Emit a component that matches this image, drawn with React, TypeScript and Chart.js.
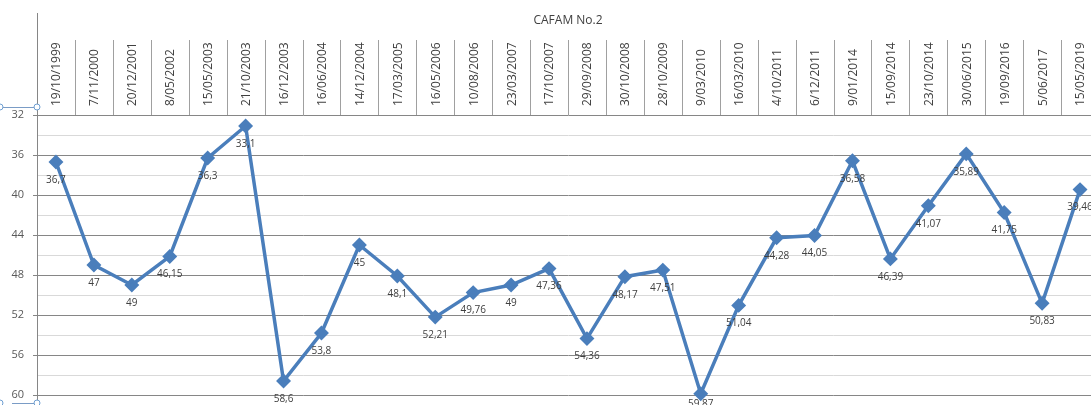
import React, { useEffect, useRef } from "react";
import { Chart, registerables } from "chart.js";

Chart.register(...registerables);

const title = "CAFAM No.2";
const categories = [
  "19/10/1999", "7/11/2000", "20/12/2001", "8/05/2002", "15/05/2003", "21/10/2003",
  "16/12/2003", "16/06/2004", "14/12/2004", "17/03/2005", "16/05/2006", "10/08/2006",
  "23/03/2007", "17/10/2007", "29/09/2008", "30/10/2008", "28/10/2009", "9/03/2010",
  "16/03/2010", "4/10/2011", "6/12/2011", "9/01/2014", "15/09/2014", "23/10/2014",
  "30/06/2015", "19/09/2016", "5/06/2017", "15/05/2019",
];
const values = [
  36.7, 47, 49, 46.15, 36.3, 33.1, 58.6, 53.8, 45, 48.1, 52.21, 49.76, 49, 47.36,
  54.36, 48.17, 47.51, 59.87, 51.04, 44.28, 44.05, 36.58, 46.39, 41.07, 35.89,
  41.75, 50.83, 39.46,
];
const yMin = 32;
const yMax = 60;
const yStep = 2;
const yLabelStep = 4;

const LINE = "#4a7ebb";
const MAJOR = "#868686";
const MINOR = "#d9d9d9";
const FONT = "'Open Sans', 'Noto Sans', sans-serif";

const decorPlugin = {
  id: "decor",
  afterDraw(chart: any) {
    const ctx = chart.ctx as CanvasRenderingContext2D;
    const area = chart.chartArea;
    const xs = chart.scales.x;
    const ys = chart.scales.y;
    ctx.save();

    // title
    ctx.fillStyle = "#404040";
    ctx.font = `12px ${FONT}`;
    ctx.textAlign = "center";
    ctx.textBaseline = "middle";
    ctx.fillText(title, (area.left + area.right) / 2, 21);

    // header separators and category labels
    const n = categories.length;
    const w = (area.right - area.left) / n;
    ctx.strokeStyle = "#a0a0a0";
    ctx.lineWidth = 1;
    for (let i = 1; i < n + 1; i++) {
      const x = Math.round(area.left + i * w) + 0.5;
      ctx.beginPath();
      ctx.moveTo(x, 40);
      ctx.lineTo(x, area.top);
      ctx.stroke();
    }
    ctx.fillStyle = "#404040";
    ctx.font = `12px ${FONT}`;
    ctx.textAlign = "left";
    ctx.textBaseline = "middle";
    categories.forEach((c, i) => {
      const cx = xs.getPixelForValue(i) + 1;
      ctx.save();
      ctx.translate(cx, 106);
      ctx.rotate(-Math.PI / 2);
      ctx.fillText(c, 0, 0);
      ctx.restore();
    });

    // extended vertical axis line
    ctx.strokeStyle = MAJOR;
    ctx.beginPath();
    ctx.moveTo(Math.round(area.left) + 0.5, 13);
    ctx.lineTo(Math.round(area.left) + 0.5, 405);
    ctx.stroke();

    // data labels (kept inside the chart box like Excel does)
    ctx.fillStyle = "#404040";
    ctx.font = `10px ${FONT}`;
    ctx.textAlign = "center";
    ctx.textBaseline = "middle";
    values.forEach((v, i) => {
      const px = xs.getPixelForValue(i);
      const py = ys.getPixelForValue(v);
      ctx.fillText(String(v).replace(".", ","), px, Math.min(py + 18, 404));
    });

    // selection handles
    const handle = (x: number, y: number) => {
      ctx.beginPath();
      ctx.arc(x, y, 3, 0, Math.PI * 2);
      ctx.fillStyle = "#ffffff";
      ctx.fill();
      ctx.strokeStyle = "#6f9fd1";
      ctx.stroke();
    };
    ctx.strokeStyle = "#7a9cc6";
    ctx.beginPath();
    ctx.moveTo(0, 107.5);
    ctx.lineTo(37, 107.5);
    ctx.moveTo(12, 403.5);
    ctx.lineTo(37, 403.5);
    ctx.stroke();
    handle(0, 107);
    handle(37, 107);
    handle(37, 403);
    handle(0, 403);

    ctx.restore();
  },
};

export default function App() {
  const ref = useRef<HTMLCanvasElement | null>(null);
  useEffect(() => {
    if (!ref.current) return;
    const chart = new Chart(ref.current, {
      type: "line",
      data: {
        labels: categories,
        datasets: [
          {
            data: values,
            borderColor: LINE,
            backgroundColor: LINE,
            borderWidth: 3.5,
            pointStyle: "rectRot",
            pointRadius: 5,
            pointBackgroundColor: LINE,
            pointBorderColor: LINE,
            tension: 0,
            clip: false as any,
          },
        ],
      },
      options: {
        responsive: false,
        animation: false,
        layout: { autoPadding: false, padding: { top: 115, left: 0, right: 0, bottom: 10 } },
        plugins: {
          legend: { display: false },
          tooltip: { enabled: false },
          title: { display: false },
        },
        scales: {
          x: {
            type: "category",
            display: false,
            offset: true,
          },
          y: {
            reverse: true,
            min: yMin,
            max: yMax,
            afterFit: (s: any) => {
              s.width = 37;
              s.paddingTop = 0;
              s.paddingBottom = 0;
            },
            border: { display: true, color: MAJOR },
            grid: {
              color: (c: any) => (c.tick && c.tick.value % yLabelStep === 0 ? MAJOR : MINOR),
              tickColor: (c: any) =>
                c.tick && c.tick.value % yLabelStep === 0 ? MAJOR : "rgba(0,0,0,0)",
              tickLength: 4,
              lineWidth: 1,
            },
            ticks: {
              stepSize: yStep,
              autoSkip: false,
              padding: 9,
              color: "#595959",
              font: { family: FONT, size: 11 },
              callback: (v: any) => (Number(v) % yLabelStep === 0 ? String(v) : ""),
            },
          },
        },
      },
      plugins: [decorPlugin],
    });
    return () => chart.destroy();
  }, []);
  return (
    <div
      style={{
        position: "absolute",
        left: 0,
        top: 0,
        width: 1091,
        height: 405,
        overflow: "hidden",
        background: "#ffffff",
      }}
    >
      <canvas ref={ref} width={1099} height={405} style={{ width: 1099, height: 405, display: "block" }} />
    </div>
  );
}
